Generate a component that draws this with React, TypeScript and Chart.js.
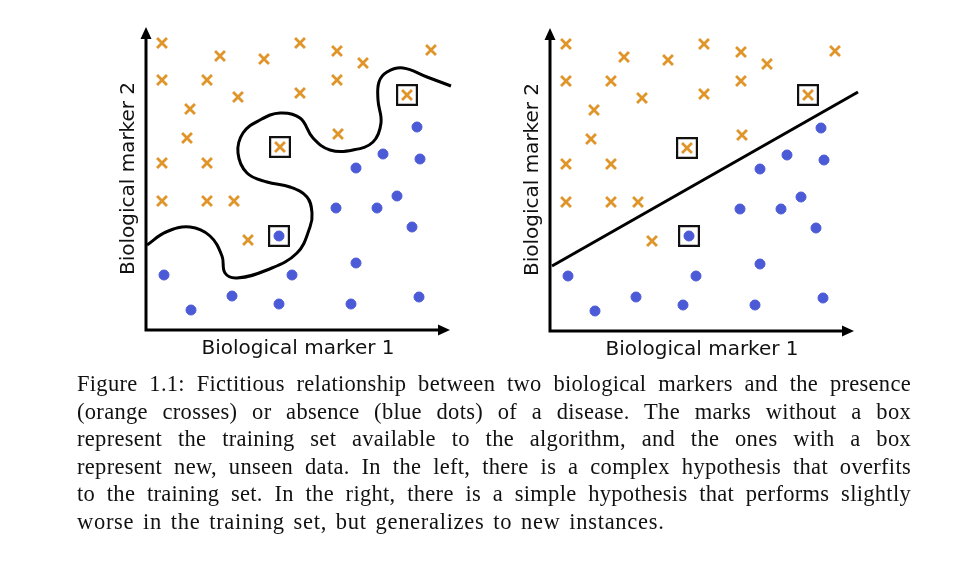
import React, { useEffect, useRef } from "react";
import { Chart, registerables } from "chart.js";

Chart.register(...registerables);

// ---------- text ----------
const X_TITLE = "Biological marker 1";
const Y_TITLE = "Biological marker 2";
const CAPTION_LINES = [
  "Figure 1.1: Fictitious relationship between two biological markers and the presence",
  "(orange crosses) or absence (blue dots) of a disease.  The marks without a box",
  "represent the training set available to the algorithm, and the ones with a box",
  "represent new, unseen data. In the left, there is a complex hypothesis that overfits",
  "to the training set. In the right, there is a simple hypothesis that performs slightly",
  "worse in the training set, but generalizes to new instances.",
];

// ---------- axis ranges (arbitrary marker units) ----------
const X_MAX = 304;
const Y_MAX = 303;

// ---------- training set: orange crosses (disease present) ----------
const crossX = [16, 74, 118, 154, 191, 217, 285, 16, 61, 92, 154, 191, 44, 41, 192, 16, 61, 16, 61, 88, 102];
const crossY = [287, 274, 271, 287, 279, 267, 280, 250, 250, 233, 237, 250, 221, 192, 196, 167, 167, 129, 129, 129, 90];

// ---------- training set: blue dots (disease absent) ----------
const dotX = [271, 237, 274, 210, 251, 190, 231, 266, 210, 146, 18, 86, 133, 205, 273, 45];
const dotY = [203, 176, 171, 162, 134, 122, 122, 103, 67, 55, 55, 34, 26, 26, 33, 20];

// ---------- new, unseen data (boxed), per panel ----------
const leftNewCrossX = [134, 261];
const leftNewCrossY = [183, 235];
const leftNewDotX = [133];
const leftNewDotY = [94];

const rightNewCrossX = [137, 258];
const rightNewCrossY = [183, 236];
const rightNewDotX = [139];
const rightNewDotY = [95];

// ---------- hypotheses ----------
// complex (overfitting) boundary
const curveX = [1, 20, 44, 64, 76, 79, 91, 121, 151, 164, 166, 161, 144, 121, 101, 92, 97, 114, 134, 154, 167, 184, 207, 227, 235, 232, 233, 241, 257, 281, 305];
const curveY = [85, 98, 103, 94, 74, 57, 52, 60, 77, 103, 117, 133, 143, 148, 157, 177, 197, 210, 217, 212, 192, 180, 180, 188, 207, 230, 248, 258, 262, 253, 244];
// simple (linear) boundary
const lineX = [2, 308];
const lineY = [65, 239];

const ORANGE = "#e0952a";
const BLUE = "#4b5ad6";

const pts = (xs: number[], ys: number[]) => xs.map((x, i) => ({ x, y: ys[i] }));

const arrowAxes = {
  id: "arrowAxes",
  beforeDatasetsDraw(chart: any) {
    const { ctx, chartArea } = chart;
    const { left, top, right, bottom } = chartArea;
    const ah = 12;
    const aw = 5.5;
    ctx.save();
    ctx.strokeStyle = "#000";
    ctx.fillStyle = "#000";
    ctx.lineWidth = 3;
    ctx.lineCap = "butt";
    ctx.beginPath();
    ctx.moveTo(left, bottom + 1.5);
    ctx.lineTo(left, top + ah - 1);
    ctx.moveTo(left - 1.5, bottom);
    ctx.lineTo(right - ah + 1, bottom);
    ctx.stroke();
    ctx.beginPath();
    ctx.moveTo(left, top);
    ctx.lineTo(left - aw, top + ah);
    ctx.lineTo(left + aw, top + ah);
    ctx.closePath();
    ctx.fill();
    ctx.beginPath();
    ctx.moveTo(right, bottom);
    ctx.lineTo(right - ah, bottom - aw);
    ctx.lineTo(right - ah, bottom + aw);
    ctx.closePath();
    ctx.fill();
    ctx.restore();
  },
};

function makeConfig(
  bx: number[], by: number[], tension: number,
  ncx: number[], ncy: number[], ndx: number[], ndy: number[]
): any {
  const crossStyle = {
    pointStyle: "crossRot",
    pointRadius: 7,
    pointBorderWidth: 2.8,
    pointBorderColor: ORANGE,
    pointBackgroundColor: ORANGE,
    showLine: false,
  };
  const dotStyle = {
    pointStyle: "circle",
    pointRadius: 5,
    pointBorderWidth: 1,
    pointBorderColor: BLUE,
    pointBackgroundColor: BLUE,
    showLine: false,
  };
  return {
    type: "scatter",
    data: {
      datasets: [
        {
          label: "hypothesis",
          data: pts(bx, by),
          showLine: true,
          tension,
          borderColor: "#000",
          borderWidth: 3,
          pointRadius: 0,
          fill: false,
          clip: false,
        },
        { label: "training crosses", data: pts(crossX, crossY), ...crossStyle },
        { label: "training dots", data: pts(dotX, dotY), ...dotStyle },
        { label: "new crosses", data: pts(ncx, ncy), ...crossStyle },
        { label: "new dots", data: pts(ndx, ndy), ...dotStyle },
        {
          label: "boxes",
          data: [...pts(ncx, ncy), ...pts(ndx, ndy)],
          pointStyle: "rect",
          pointRadius: 14,
          pointBorderWidth: 2.2,
          pointBorderColor: "#111",
          pointBackgroundColor: "rgba(0,0,0,0)",
          showLine: false,
        },
      ],
    },
    options: {
      animation: false,
      responsive: false,
      events: [],
      layout: { autoPadding: false, padding: { left: 17, top: 12, right: 20, bottom: 14 } },
      plugins: { legend: { display: false }, tooltip: { enabled: false } },
      scales: {
        x: {
          type: "linear",
          min: 0,
          max: X_MAX,
          grid: { display: false, drawTicks: false },
          border: { display: false },
          ticks: { display: false },
          title: {
            display: true,
            text: X_TITLE,
            color: "#111",
            font: { family: "'DejaVu Sans'", size: 20 },
            padding: { top: 7, bottom: 0 },
          },
        },
        y: {
          type: "linear",
          min: 0,
          max: Y_MAX,
          grid: { display: false, drawTicks: false },
          border: { display: false },
          ticks: { display: false },
          title: {
            display: true,
            text: Y_TITLE,
            color: "#111",
            font: { family: "'DejaVu Sans'", size: 20 },
            padding: { top: 0, bottom: 5 },
          },
        },
      },
    },
    plugins: [arrowAxes],
  };
}

function Panel(props: { left: number; top: number; config: () => any }) {
  const ref = useRef<HTMLCanvasElement | null>(null);
  useEffect(() => {
    if (!ref.current) return;
    const chart = new Chart(ref.current, props.config());
    return () => chart.destroy();
  }, []);
  return (
    <canvas
      ref={ref}
      width={370}
      height={360}
      style={{ position: "absolute", left: props.left, top: props.top, width: 370, height: 360 }}
    />
  );
}

export default function App() {
  const last = CAPTION_LINES.length - 1;
  return (
    <div style={{ position: "absolute", left: 0, top: 0, width: 970, height: 563, background: "#fff", overflow: "hidden" }}>
      <Panel
        left={100}
        top={15}
        config={() => makeConfig(curveX, curveY, 0.4, leftNewCrossX, leftNewCrossY, leftNewDotX, leftNewDotY)}
      />
      <Panel
        left={504}
        top={15.5}
        config={() => makeConfig(lineX, lineY, 0, rightNewCrossX, rightNewCrossY, rightNewDotX, rightNewDotY)}
      />
      <div
        style={{
          position: "absolute",
          left: 77,
          top: 370,
          width: 834,
          fontFamily: "'Liberation Serif', serif",
          fontSize: 22.5,
          lineHeight: "27.6px",
          color: "#111",
          letterSpacing: "0.3px",
        }}
      >
        {CAPTION_LINES.map((line, i) => (
          <div
            key={i}
            style={{
              textAlign: i === last ? "left" : "justify",
              textAlignLast: i === last ? "left" : "justify",
              whiteSpace: "nowrap",
              letterSpacing: i === last ? "0.7px" : undefined,
              wordSpacing: i === last ? "2.5px" : undefined,
            } as any}
          >
            {line}
          </div>
        ))}
      </div>
    </div>
  );
}
